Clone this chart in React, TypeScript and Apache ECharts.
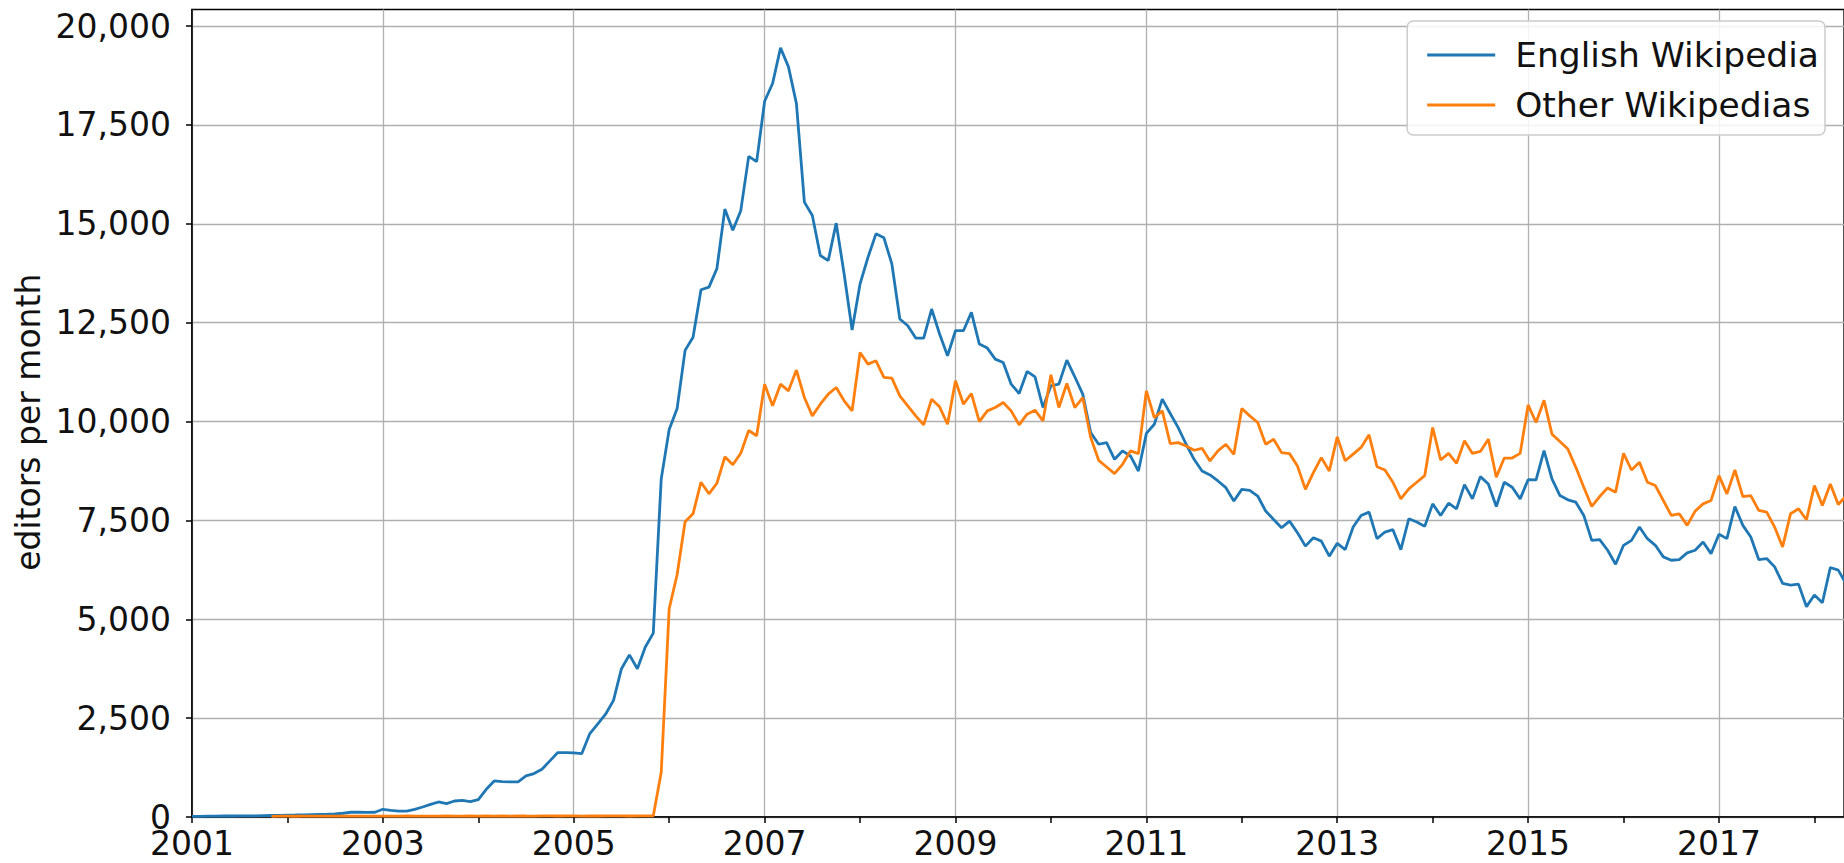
import React, { useEffect, useRef } from "react";
import * as echarts from "echarts";

const START_YEAR = 2001;
const seriesNames = ["English Wikipedia", "Other Wikipedias"];
const yAxisName = "editors per month";
const yTickValues = [0, 2500, 5000, 7500, 10000, 12500, 15000, 17500, 20000];

// monthly values, Jan 2001 .. May 2018
const english = [
  15, 18, 20, 22, 25, 25, 28, 30, 30, 35, 38, 40,
  48, 50, 55, 60, 65, 70, 80, 95, 120, 125, 115, 120,
  195, 170, 150, 150, 195, 253, 320, 380, 338, 405, 422, 389,
  440, 700, 912, 895, 887, 887, 1039, 1098, 1208, 1419, 1630, 1630,
  1620, 1600, 2100, 2350, 2600, 2950, 3750, 4100, 3750, 4300, 4650, 8550,
  9800, 10333, 11800, 12133, 13333, 13400, 13867, 15373, 14840, 15333, 16707, 16573,
  18100, 18550, 19450, 18970, 18040, 15549, 15211, 14198, 14071, 15017, 13733, 12314,
  13480, 14155, 14747, 14645, 13986, 12593, 12424, 12111, 12111, 12846, 12213, 11664,
  12297, 12297, 12762, 11960, 11858, 11579, 11495, 10946, 10709, 11267, 11132, 10355,
  10904, 10946, 11554, 11132, 10693, 9721, 9426, 9468, 9046, 9257, 9130, 8750,
  9700, 9932, 10566, 10203, 9848, 9426, 9046, 8750, 8649, 8497, 8328, 7990,
  8285, 8260, 8117, 7737, 7525, 7314, 7483, 7188, 6850, 7061, 6976, 6596,
  6920, 6761, 7332, 7626, 7710, 7039, 7206, 7265, 6761, 7542, 7458, 7349,
  7919, 7626, 7936, 7793, 8406, 8045, 8607, 8423, 7852, 8465, 8339, 8045,
  8530, 8523, 9262, 8549, 8129, 8020, 7961, 7626, 6996, 7013, 6745, 6392,
  6870, 6996, 7332, 7038, 6870, 6577, 6493, 6510, 6678, 6745, 6955, 6661,
  7150, 7039, 7852, 7374, 7080, 6510, 6535, 6325, 5906, 5864, 5889, 5319,
  5612, 5419, 6309, 6242, 5889,
];

const other = [
  null, null, null, null, null, null, null, null, null, null, 18, 20,
  21, 19, 22, 20, 23, 21, 22, 24, 20, 23, 22, 21,
  24, 22, 23, 25, 21, 24, 23, 22, 25, 24, 23, 26,
  24, 25, 23, 26, 24, 27, 25, 24, 26, 28, 25, 27,
  26, 24, 27, 25, 28, 26, 27, 25, 28, 26, 27, 1133,
  5267, 6133, 7467, 7667, 8467, 8173, 8440, 9107, 8907, 9200, 9773, 9640,
  10946, 10397, 10946, 10777, 11301, 10608, 10144, 10439, 10693, 10862, 10524, 10270,
  11748, 11453, 11537, 11115, 11098, 10650, 10397, 10144, 9916, 10566, 10372, 9932,
  11030, 10439, 10709, 10000, 10270, 10355, 10481, 10270, 9916, 10186, 10287, 10017,
  11182, 10355, 10963, 10355, 10608, 9595, 9020, 8851, 8682, 8919, 9257, 9189,
  10777, 10101, 10270, 9443, 9468, 9383, 9274, 9324, 9003, 9257, 9426, 9172,
  10329, 10144, 9975, 9426, 9552, 9215, 9189, 8877, 8285, 8708, 9088, 8750,
  9614, 9010, 9178, 9346, 9664, 8859, 8775, 8465, 8045, 8297, 8465, 8632,
  9849, 9027, 9195, 8943, 9513, 9195, 9245, 9555, 8590, 9077, 9077, 9195,
  10420, 9975, 10537, 9681, 9497, 9304, 8842, 8339, 7852, 8104, 8322, 8213,
  9195, 8775, 8968, 8465, 8381, 8003, 7626, 7667, 7374, 7735, 7919, 8003,
  8632, 8171, 8775, 8104, 8129, 7752, 7710, 7332, 6829, 7668, 7794, 7517,
  8381, 7878, 8423, 7903, 8129,
];

const FONT = "DejaVu Sans";

export default function App() {
  const ref = useRef<HTMLDivElement>(null);
  useEffect(() => {
    const chart = echarts.init(ref.current!, null, { renderer: "svg" });
    const toPairs = (arr: (number | null)[]) =>
      arr.map((v, i) => [START_YEAR + i / 12, v]);
    chart.setOption({
      animation: false,
      backgroundColor: "#ffffff",
      grid: {
        left: 192,
        top: 9.5,
        right: -4,
        bottom: 46,
        show: true,
        borderColor: "#000000",
        borderWidth: 1.5,
        backgroundColor: "transparent",
      },
      legend: {
        orient: "vertical",
        right: 19,
        top: 21,
        data: seriesNames,
        icon: "rect",
        itemWidth: 68,
        itemHeight: 3,
        itemGap: 10,
        padding: [14, 6, 10, 20],
        backgroundColor: "rgba(255,255,255,0.85)",
        borderColor: "#cccccc",
        borderWidth: 1.5,
        borderRadius: 6,
        textStyle: {
          fontFamily: FONT,
          fontSize: 34.5,
          color: "#111111",
          lineHeight: 40,
          padding: [0, 0, 0, 15],
        },
      },
      xAxis: {
        type: "value",
        min: 2001,
        max: 2018.31,
        interval: 1,
        axisLine: { show: true, onZero: false, lineStyle: { color: "#000", width: 1.5 } },
        axisTick: { show: true, length: 6, lineStyle: { color: "#000", width: 1.5 } },
        splitLine: {
          show: true,
          lineStyle: { color: ["#b0b0b0", "rgba(0,0,0,0)"], width: 1.3 },
        },
        axisLabel: {
          showMaxLabel: false,
          fontFamily: FONT,
          fontSize: 33,
          lineHeight: 24,
          color: "#111111",
          margin: 14.5,
          formatter: (v: number) =>
            Number.isInteger(v) && (v - 2001) % 2 === 0 ? String(v) : "",
        },
      },
      yAxis: {
        type: "value",
        min: 0,
        max: 20420,
        interval: 2500,
        name: yAxisName,
        nameLocation: "middle",
        nameGap: 145,
        nameRotate: 90,
        nameTextStyle: {
          fontFamily: FONT,
          fontSize: 33,
          color: "#111111",
          padding: [0, 18, 0, 0],
        },
        axisLine: { show: true, lineStyle: { color: "#000", width: 1.5 } },
        axisTick: {
          show: true,
          length: 6,
          customValues: yTickValues,
          lineStyle: { color: "#000", width: 1.5 },
        },
        splitLine: { show: true, lineStyle: { color: "#b0b0b0", width: 1.3 } },
        axisLabel: {
          customValues: yTickValues,
          fontFamily: FONT,
          fontSize: 33,
          lineHeight: 24,
          color: "#111111",
          margin: 21,
          formatter: (v: number) =>
            v % 2500 === 0 ? v.toLocaleString("en-US") : "",
        },
      },
      series: [
        {
          name: seriesNames[0],
          type: "line",
          data: toPairs(english),
          showSymbol: false,
          symbol: "none",
          color: "#1f77b4",
          lineStyle: { width: 2.8, color: "#1f77b4" },
          clip: true,
        },
        {
          name: seriesNames[1],
          type: "line",
          data: toPairs(other),
          showSymbol: false,
          symbol: "none",
          color: "#ff7f0e",
          lineStyle: { width: 2.8, color: "#ff7f0e" },
          clip: true,
        },
      ],
    });
    return () => chart.dispose();
  }, []);
  return (
    <div
      ref={ref}
      style={{ position: "fixed", left: 0, top: 0, width: 1844, height: 863 }}
    />
  );
}
